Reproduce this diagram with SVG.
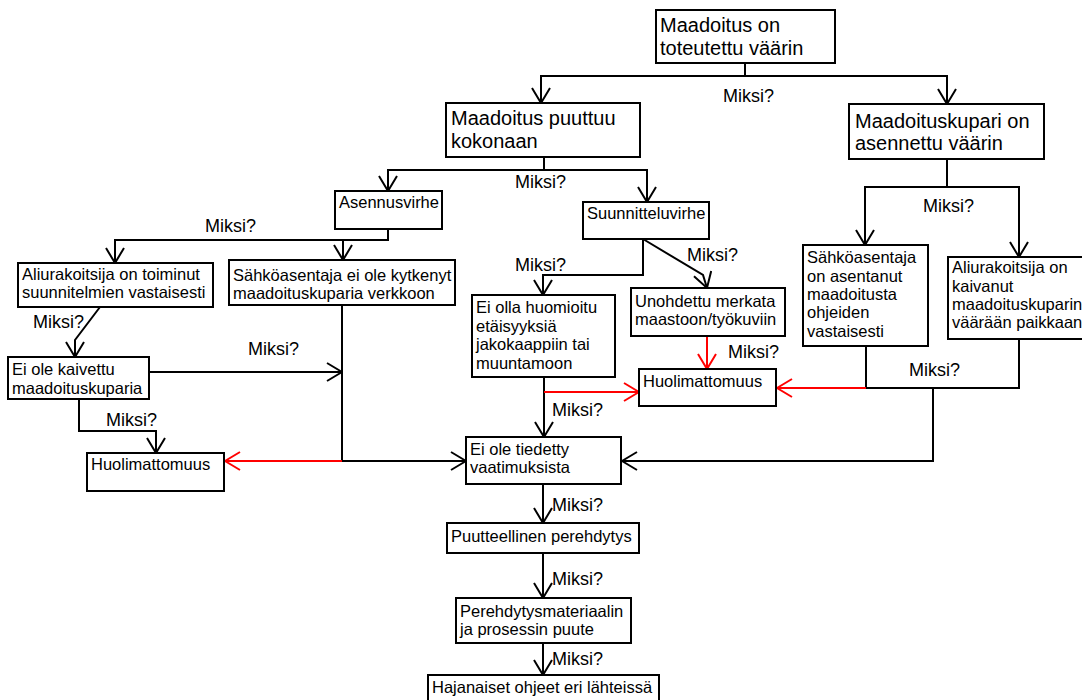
<svg xmlns="http://www.w3.org/2000/svg" width="1082" height="700" viewBox="0 0 1082 700">
<defs>
<style>
.box{fill:#fff;stroke:#000;stroke-width:2}
.big{font-family:"Liberation Sans",Arial,sans-serif;font-size:20px;fill:#000}
.sm{font-family:"Liberation Sans",Arial,sans-serif;font-size:16.5px;fill:#000}
.lbl{font-family:"Liberation Sans",Arial,sans-serif;font-size:18px;fill:#000}
.c{fill:none;stroke:#000;stroke-width:2}
.r{fill:none;stroke:#f00;stroke-width:2}
</style>
<marker id="a" viewBox="-17 -10 18 20" markerWidth="18" markerHeight="20" refX="0" refY="0" orient="auto" markerUnits="userSpaceOnUse">
<path d="M-15 -9 L0 0 L-15 9" fill="none" stroke="#000" stroke-width="2"/>
</marker>
<marker id="ar" viewBox="-17 -10 18 20" markerWidth="18" markerHeight="20" refX="0" refY="0" orient="auto" markerUnits="userSpaceOnUse">
<path d="M-15 -9 L0 0 L-15 9" fill="none" stroke="#f00" stroke-width="2"/>
</marker>
</defs>
<rect width="1082" height="700" fill="#fff"/>
<g id="connectors">
<path class="c" d="M745 63 V76"/>
<path class="c" d="M745 76 H541 V103" marker-end="url(#a)"/>
<path class="c" d="M745 76 H947 V104" marker-end="url(#a)"/>
<path class="c" d="M544 157 V170 H388 V191" marker-end="url(#a)"/>
<path class="c" d="M544 170 H647 V202" marker-end="url(#a)"/>
<path class="c" d="M388 229 V240 H115 V263" marker-end="url(#a)"/>
<path class="c" d="M343 240 V260" marker-end="url(#a)"/>
<path class="c" d="M100 307 L75 340 V357" marker-end="url(#a)"/>
<path class="c" d="M149 372 H342" marker-end="url(#a)"/>
<path class="c" d="M79 399 V431 H156 V453" marker-end="url(#a)"/>
<path class="c" d="M342 305 V461 H466" marker-end="url(#a)"/>
<path class="r" d="M342 461 H225" marker-end="url(#ar)"/>
<path class="c" d="M643 239 V275 H543 V295" marker-end="url(#a)"/>
<path class="c" d="M643 239 L703 275 L707 288" marker-end="url(#a)"/>
<path class="r" d="M707 336 V369" marker-end="url(#ar)"/>
<path class="c" d="M544 377 V437" marker-end="url(#a)"/>
<path class="r" d="M544 392 H639" marker-end="url(#ar)"/>
<path class="c" d="M947 159 V187 H865 V245" marker-end="url(#a)"/>
<path class="c" d="M947 187 H1019 V257" marker-end="url(#a)"/>
<path class="c" d="M866 346 V388 H1019 V339"/>
<path class="r" d="M866 388 H777" marker-end="url(#ar)"/>
<path class="c" d="M933 388 V461 H622" marker-end="url(#a)"/>
<path class="c" d="M543 484 V523" marker-end="url(#a)"/>
<path class="c" d="M543 553 V598" marker-end="url(#a)"/>
<path class="c" d="M543 643 V675" marker-end="url(#a)"/>
<text class="lbl" x="723" y="102">Miksi?</text>
<text class="lbl" x="515" y="188">Miksi?</text>
<text class="lbl" x="205" y="232">Miksi?</text>
<text class="lbl" x="33" y="328">Miksi?</text>
<text class="lbl" x="248" y="355">Miksi?</text>
<text class="lbl" x="106" y="426">Miksi?</text>
<text class="lbl" x="515" y="271">Miksi?</text>
<text class="lbl" x="687" y="261">Miksi?</text>
<text class="lbl" x="728" y="358">Miksi?</text>
<text class="lbl" x="552" y="416">Miksi?</text>
<text class="lbl" x="923" y="212">Miksi?</text>
<text class="lbl" x="909" y="376">Miksi?</text>
<text class="lbl" x="552" y="511">Miksi?</text>
<text class="lbl" x="552" y="585">Miksi?</text>
<text class="lbl" x="552" y="665">Miksi?</text>
</g>
<g id="n1"><rect class="box" x="656" y="10" width="179" height="53"/><text class="big" x="660" y="32">Maadoitus on</text><text class="big" x="660" y="55">toteutettu väärin</text></g>
<g id="n2"><rect class="box" x="446" y="103" width="194" height="54"/><text class="big" x="451" y="125">Maadoitus puuttuu</text><text class="big" x="451" y="148">kokonaan</text></g>
<g id="n3"><rect class="box" x="849" y="104" width="195" height="55"/><text class="big" x="855" y="128">Maadoituskupari on</text><text class="big" x="855" y="150">asennettu väärin</text></g>
<g id="n4"><rect class="box" x="335" y="191" width="107" height="38"/><text class="sm" x="339" y="208">Asennusvirhe</text></g>
<g id="n5"><rect class="box" x="583" y="202" width="126" height="37"/><text class="sm" x="587" y="219">Suunnitteluvirhe</text></g>
<g id="n6"><rect class="box" x="18" y="263" width="195" height="44"/><text class="sm" x="22" y="280">Aliurakoitsija on toiminut</text><text class="sm" x="22" y="298">suunnitelmien vastaisesti</text></g>
<g id="n7"><rect class="box" x="229" y="260" width="226" height="45"/><text class="sm" x="233" y="281">Sähköasentaja ei ole kytkenyt</text><text class="sm" x="233" y="299">maadoituskuparia verkkoon</text></g>
<g id="n8"><rect class="box" x="8" y="357" width="141" height="42"/><text class="sm" x="12" y="375">Ei ole kaivettu</text><text class="sm" x="12" y="394">maadoituskuparia</text></g>
<g id="n9"><rect class="box" x="87" y="453" width="137" height="38"/><text class="sm" x="91" y="470">Huolimattomuus</text></g>
<g id="n10"><rect class="box" x="472" y="295" width="143" height="82"/><text class="sm" x="476" y="313">Ei olla huomioitu</text><text class="sm" x="476" y="332">etäisyyksiä</text><text class="sm" x="476" y="350">jakokaappiin tai</text><text class="sm" x="476" y="369">muuntamoon</text></g>
<g id="n11"><rect class="box" x="631" y="288" width="154" height="48"/><text class="sm" x="635" y="307">Unohdettu merkata</text><text class="sm" x="635" y="325">maastoon/työkuviin</text></g>
<g id="n12"><rect class="box" x="639" y="369" width="137" height="37"/><text class="sm" x="643" y="387">Huolimattomuus</text></g>
<g id="n13"><rect class="box" x="803" y="245" width="125" height="101"/><text class="sm" x="807" y="263">Sähköasentaja</text><text class="sm" x="807" y="282">on asentanut</text><text class="sm" x="807" y="300">maadoitusta</text><text class="sm" x="807" y="318">ohjeiden</text><text class="sm" x="807" y="337">vastaisesti</text></g>
<g id="n14"><rect class="box" x="948" y="257" width="140" height="82"/><text class="sm" x="952" y="273">Aliurakoitsija on</text><text class="sm" x="952" y="292">kaivanut</text><text class="sm" x="952" y="310">maadoituskuparin</text><text class="sm" x="952" y="328">väärään paikkaan</text></g>
<g id="n15"><rect class="box" x="466" y="437" width="155" height="47"/><text class="sm" x="470" y="455">Ei ole tiedetty</text><text class="sm" x="470" y="473">vaatimuksista</text></g>
<g id="n16"><rect class="box" x="447" y="523" width="192" height="30"/><text class="sm" x="451" y="542">Puutteellinen perehdytys</text></g>
<g id="n17"><rect class="box" x="456" y="598" width="175" height="45"/><text class="sm" x="460" y="617">Perehdytysmateriaalin</text><text class="sm" x="460" y="635">ja prosessin puute</text></g>
<g id="n18"><rect class="box" x="428" y="675" width="231" height="30"/><text class="sm" x="432" y="693">Hajanaiset ohjeet eri lähteissä</text></g>
</svg>
